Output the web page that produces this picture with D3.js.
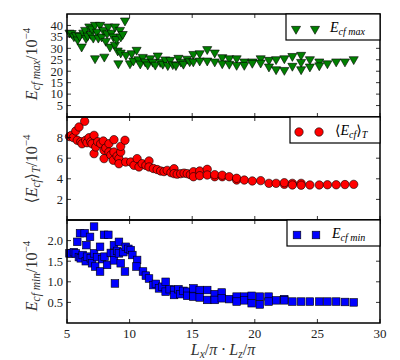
<!DOCTYPE html>
<html><head><meta charset="utf-8">
<script src="https://cdn.jsdelivr.net/npm/d3@7"></script>
<style>body{margin:0;background:#fff}</style></head>
<body><svg id="c" width="400" height="360"></svg>
<script>
const xTicks = [5, 10, 15, 20, 25, 30];
const maxTicks = [5, 10, 15, 20, 25, 30, 35, 40];
const meanTicks = [2, 4, 6, 8];
const minTicks = [0.5, 1.0, 1.5, 2.0];

const maxPts = [[5.2,36.8],[5.37,36.6],[5.55,35.2],[5.72,35.8],[5.85,33.8],[6.0,35.4],[6.17,30.7],[6.3,36.8],[6.45,38.0],[6.52,34.4],[6.65,35.5],[6.78,39.5],[6.9,36.2],[7.0,38.6],[7.1,34.6],[7.24,40.2],[7.24,25.6],[7.4,37.2],[7.5,34.6],[7.64,40.2],[7.77,35.1],[7.9,38.0],[7.98,26.3],[8.1,33.2],[8.2,36.5],[8.3,39.5],[8.43,30.7],[8.55,36.8],[8.7,35.1],[8.83,39.5],[8.83,31.5],[8.95,34.0],[9.05,29.0],[9.1,23.4],[9.23,38.0],[9.3,35.1],[9.29,28.1],[9.45,36.2],[9.63,42.1],[9.71,27.1],[10.03,23.4],[10.17,27.8],[10.3,24.6],[10.56,29.3],[10.7,25.2],[10.85,23.3],[11.05,26.2],[11.25,24.2],[11.45,22.9],[11.65,25.6],[11.85,24.1],[12.05,22.8],[12.25,26.8],[12.45,24.0],[12.65,23.2],[12.85,25.1],[13.05,22.6],[13.25,24.9],[13.45,23.0],[13.7,22.6],[13.9,25.8],[14.1,24.1],[14.3,23.2],[14.6,25.4],[14.8,24.3],[15.09,27.5],[15.09,24.2],[15.6,27.8],[15.6,24.6],[16.2,29.6],[16.2,24.6],[16.8,28.1],[16.8,24.2],[17.4,26.1],[17.4,23.4],[17.96,25.6],[17.96,23.2],[18.55,25.6],[18.55,22.7],[19.16,24.2],[19.16,22.7],[19.8,24.2],[19.8,23.6],[20.47,25.6],[20.47,23.7],[21.13,24.9],[21.13,22.0],[21.7,25.2],[21.7,20.8],[22.36,25.6],[22.36,20.5],[23.0,26.6],[23.0,22.3],[23.7,27.1],[23.7,24.0],[23.7,20.8],[24.4,25.2],[24.4,22.0],[25.15,24.2],[25.15,22.5],[25.8,23.4],[26.5,24.2],[27.2,24.2],[27.9,25.2]];

const meanPts = [[5.2,8.1],[5.35,8.22],[5.5,8.0],[5.7,8.64],[5.82,7.74],[5.96,9.03],[6.1,7.6],[6.2,7.4],[6.41,9.58],[6.49,7.74],[6.6,7.5],[6.76,7.99],[6.9,7.6],[7.0,7.4],[7.16,8.22],[7.16,6.44],[7.3,7.09],[7.45,7.6],[7.69,7.41],[7.9,7.67],[7.96,6.77],[7.96,5.96],[8.1,7.0],[8.35,7.41],[8.35,6.6],[8.5,6.3],[8.75,7.8],[8.75,6.6],[8.7,5.8],[9.0,6.2],[9.15,5.96],[9.29,6.6],[9.29,7.15],[9.15,5.46],[9.63,7.74],[9.69,5.63],[10.09,5.63],[10.35,5.31],[10.6,5.96],[10.75,5.15],[11.0,5.47],[11.3,5.3],[11.55,5.73],[11.55,5.15],[11.9,5.0],[12.2,4.9],[12.48,4.76],[12.75,4.7],[13.0,4.82],[13.3,4.6],[13.55,4.98],[13.55,4.5],[13.8,4.45],[14.08,4.5],[14.35,4.55],[14.6,4.5],[14.85,4.4],[15.1,4.69],[15.1,4.2],[15.6,4.76],[15.6,4.3],[16.2,4.92],[16.2,4.37],[16.8,4.2],[16.8,4.4],[17.4,4.2],[17.4,4.35],[17.96,4.2],[18.55,3.88],[18.55,4.05],[19.16,3.88],[19.8,3.79],[20.47,3.82],[21.13,3.56],[21.7,3.56],[22.36,3.46],[22.36,3.62],[23.0,3.56],[23.0,3.4],[23.7,3.56],[23.7,3.38],[24.4,3.4],[25.15,3.4],[25.8,3.42],[26.5,3.42],[27.2,3.44],[27.9,3.46]];

const minPts = [[5.2,1.69],[5.35,1.69],[5.55,1.72],[5.7,1.69],[5.82,1.97],[5.95,1.6],[6.04,2.18],[6.1,1.57],[6.25,1.65],[6.41,2.18],[6.5,1.5],[6.55,1.89],[6.6,1.61],[6.84,2.09],[6.9,1.57],[7.0,1.45],[7.16,2.34],[7.16,1.69],[7.25,1.37],[7.4,1.6],[7.64,1.85],[7.64,1.25],[7.8,1.55],[7.96,2.14],[8.0,1.61],[8.2,1.41],[8.3,2.14],[8.5,1.7],[8.75,1.89],[8.75,1.69],[8.75,1.52],[8.83,0.96],[9.0,1.75],[9.15,1.97],[9.15,1.69],[9.29,1.45],[9.5,1.72],[9.63,1.25],[9.69,1.85],[9.9,1.8],[10.09,1.77],[10.22,1.65],[10.6,1.53],[10.55,1.37],[11.07,1.25],[11.3,1.15],[11.55,1.08],[11.9,0.92],[12.1,0.95],[12.35,0.84],[12.6,0.88],[12.88,1.0],[12.88,0.76],[13.2,0.82],[13.55,0.8],[13.55,0.68],[13.9,0.82],[14.05,0.7],[14.3,0.78],[14.6,0.76],[14.6,0.66],[15.1,0.68],[15.1,0.84],[15.1,0.64],[15.6,0.8],[15.6,0.62],[16.2,0.8],[16.2,0.56],[16.8,0.7],[16.8,0.56],[17.36,0.74],[17.36,0.6],[17.96,0.58],[18.55,0.64],[18.55,0.52],[19.16,0.64],[19.16,0.55],[19.75,0.66],[19.75,0.48],[20.4,0.64],[20.4,0.45],[21.1,0.64],[21.1,0.52],[21.7,0.55],[22.35,0.58],[22.35,0.55],[23.0,0.52],[23.7,0.52],[24.4,0.52],[25.15,0.52],[25.8,0.52],[26.5,0.52],[27.2,0.51],[27.9,0.5]];

const svg = d3.select("#c");
const FONT = "'Liberation Serif', 'DejaVu Serif', serif";
const L = 67, R = 380;
const x = d3.scaleLinear([5, 30], [L, R]);

const panels = [
  {top: 14, bottom: 117, domain: [0, 45], ticks: maxTicks, fmt: d3.format("d"), data: maxPts,
   shape: "tri", fill: "#008000", legend: {x0: 286, y0: 14, m1: 296, m2: 315, tx: 330}, label: "max", lc: 64},
  {top: 117, bottom: 220, domain: [0, 10], ticks: meanTicks, fmt: d3.format("d"), data: meanPts,
   shape: "circ", fill: "#ff0000", legend: {x0: 290, y0: 117, m1: 299, m2: 319, tx: 335}, label: "mean", lc: 169},
  {top: 220, bottom: 323, domain: [0, 2.5], ticks: minTicks, fmt: d3.format(".1f"), data: minPts,
   shape: "sq", fill: "#0000ff", legend: {x0: 287, y0: 220, m1: 297, m2: 316, tx: 332}, label: "min", lc: 276}
];

function marker(g, shape, fill, cx, cy) {
  if (shape === "tri") {
    g.append("path").attr("d", d3.symbol(d3.symbolTriangle, 36)())
      .attr("transform", `translate(${cx},${cy}) rotate(180)`)
      .attr("fill", fill).attr("stroke", "#000").attr("stroke-width", 0.6);
  } else if (shape === "circ") {
    g.append("circle").attr("cx", cx).attr("cy", cy).attr("r", 4.2)
      .attr("fill", fill).attr("stroke", "#000").attr("stroke-width", 0.6);
  } else {
    g.append("rect").attr("x", cx - 3.8).attr("y", cy - 3.8).attr("width", 7.6).attr("height", 7.6)
      .attr("fill", fill).attr("stroke", "#000").attr("stroke-width", 0.6);
  }
}

panels.forEach((p, i) => {
  const y = d3.scaleLinear(p.domain, [p.bottom, p.top]);
  const g = svg.append("g");
  const pg = g.append("g");
  p.data.forEach(d => marker(pg, p.shape, p.fill, x(d[0]), y(d[1])));
  const tg = g.append("g").attr("stroke", "#000").attr("stroke-width", 0.8);
  p.ticks.forEach(t => {
    tg.append("line").attr("x1", L).attr("x2", L + 4).attr("y1", y(t)).attr("y2", y(t));
    tg.append("line").attr("x1", R).attr("x2", R - 4).attr("y1", y(t)).attr("y2", y(t));
  });
  xTicks.forEach(t => {
    tg.append("line").attr("x1", x(t)).attr("x2", x(t)).attr("y1", p.top).attr("y2", p.top + 4);
    tg.append("line").attr("x1", x(t)).attr("x2", x(t)).attr("y1", p.bottom).attr("y2", p.bottom - 4);
  });
  g.append("g").selectAll("text").data(p.ticks).join("text")
    .attr("x", L - 4).attr("y", d => y(d)).attr("dy", "0.35em")
    .attr("text-anchor", "end").attr("font-family", FONT).attr("font-size", 12.5).attr("fill", "#222")
    .text(d => p.fmt(d));
  g.append("rect").attr("x", L).attr("y", p.top).attr("width", R - L).attr("height", p.bottom - p.top)
    .attr("fill", "none").attr("stroke", "#000").attr("stroke-width", 1.5);
  const lg = p.legend;
  g.append("rect").attr("x", lg.x0).attr("y", lg.y0).attr("width", R - lg.x0).attr("height", 26)
    .attr("fill", "#fff").attr("stroke", "#000").attr("stroke-width", 1.2);
  marker(g, p.shape, p.fill, lg.m1, lg.y0 + 15);
  marker(g, p.shape, p.fill, lg.m2, lg.y0 + 15);
  const lt = g.append("text").attr("x", lg.tx).attr("y", lg.y0 + 18)
    .attr("font-family", FONT).attr("font-size", 14).attr("fill", "#000");
  if (p.label === "mean") {
    lt.append("tspan").text("\u27E8");
    lt.append("tspan").attr("font-style", "italic").text("E");
    lt.append("tspan").attr("font-style", "italic").attr("font-size", 10).attr("dy", 3).text("cf");
    lt.append("tspan").attr("dy", -3).text("\u27E9");
    lt.append("tspan").attr("font-style", "italic").attr("font-size", 10).attr("dy", 3).text("T");
  } else {
    lt.append("tspan").attr("font-style", "italic").text("E");
    lt.append("tspan").attr("font-style", "italic").attr("font-size", 10).attr("dy", 3).text("cf " + p.label);
  }
  const yl = svg.append("text").attr("transform", `translate(37,${p.lc}) rotate(-90)`)
    .attr("text-anchor", "middle").attr("font-family", FONT).attr("font-size", 16).attr("fill", "#333");
  if (p.label === "mean") {
    yl.append("tspan").text("\u27E8");
    yl.append("tspan").attr("font-style", "italic").text("E");
    yl.append("tspan").attr("font-style", "italic").attr("font-size", 11.5).attr("dy", 3).text("cf");
    yl.append("tspan").attr("dy", -3).text("\u27E9");
    yl.append("tspan").attr("font-style", "italic").attr("font-size", 11.5).attr("dy", 3).text("T");
    yl.append("tspan").attr("dy", -3).text("/10");
  } else {
    yl.append("tspan").attr("font-style", "italic").text("E");
    yl.append("tspan").attr("font-style", "italic").attr("font-size", 11.5).attr("dy", 3).text("cf " + p.label);
    yl.append("tspan").attr("dy", -3).text("/10");
  }
  yl.append("tspan").attr("font-size", 11).attr("dy", -7).text("\u22124");
});

svg.append("g").selectAll("text").data(xTicks).join("text")
  .attr("x", d => x(d)).attr("y", 338).attr("text-anchor", "middle")
  .attr("font-family", FONT).attr("font-size", 13).attr("fill", "#222").text(d => d);

const xl = svg.append("text").attr("x", 223).attr("y", 355).attr("text-anchor", "middle")
  .attr("font-family", FONT).attr("font-size", 16).attr("fill", "#333");
xl.append("tspan").attr("font-style", "italic").text("L");
xl.append("tspan").attr("font-style", "italic").attr("font-size", 11.5).attr("dy", 3).text("x");
xl.append("tspan").attr("dy", -3).text("/");
xl.append("tspan").attr("font-style", "italic").text("\u03C0 \u00B7 L");
xl.append("tspan").attr("font-style", "italic").attr("font-size", 11.5).attr("dy", 3).text("z");
xl.append("tspan").attr("dy", -3).text("/");
xl.append("tspan").attr("font-style", "italic").text("\u03C0");
</script></body></html>
